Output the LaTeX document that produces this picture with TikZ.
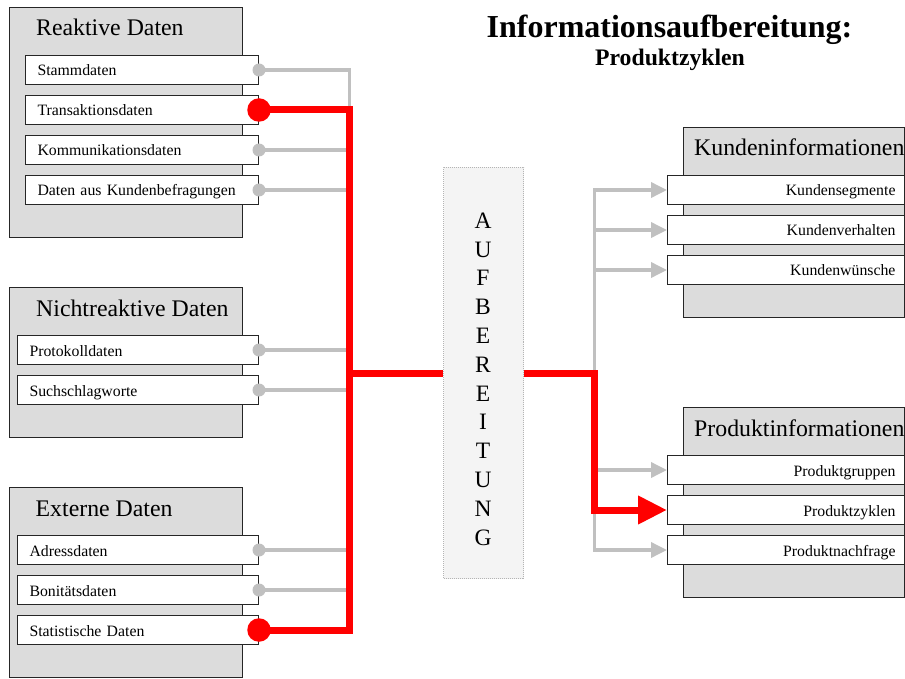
\documentclass[tikz,border=0pt]{standalone}
\usepackage{fontspec}
\setmainfont{Liberation Serif}
\usetikzlibrary{arrows.meta}
\definecolor{boxgray}{HTML}{DCDCDC}
\definecolor{linegray}{HTML}{C0C0C0}
\definecolor{aufbfill}{HTML}{F4F4F4}
\definecolor{aufbdraw}{HTML}{B4B4B4}

\begin{document}
\begin{tikzpicture}[x=1pt,y=-1pt,
  groupbox/.style={draw=black!85, line width=1pt, fill=boxgray, anchor=north west, inner sep=0pt},
  grouptitle/.style={anchor=base west, inner sep=0pt, font=\fontsize{23.8}{26}\selectfont},
  itembox/.style={draw=black!85, line width=1pt, fill=white, minimum height=28.5pt, inner ysep=0pt,
    text height=12pt, text depth=0pt, font=\fontsize{15.8}{18}\selectfont},
  leftitem/.style={itembox, anchor=west, align=left, inner xsep=12pt, text width=#1},
  rightitem/.style={itembox, anchor=west, align=right, inner xsep=9pt, text width=219pt},
  gdot/.style={circle, fill=linegray, minimum size=13pt, inner sep=0pt},
  rdot/.style={circle, fill=red, minimum size=23.5pt, inner sep=0pt},
  gline/.style={draw=linegray, line width=3.5pt},
  rline/.style={draw=red, line width=7pt, line join=miter},
  gtip/.tip={Triangle[length=16pt, width=15pt]},
  rtip/.tip={Triangle[length=29pt, width=27pt]},
  letter/.style={anchor=base, inner sep=0pt, font=\fontsize{23.5}{26}\selectfont}
]
\useasboundingbox (0,0) rectangle (905,679);

% headline
\node[anchor=base, inner sep=0pt, font=\bfseries\fontsize{32}{36}\selectfont] (title) at (669.5,37.7) {Informationsaufbereitung:};
\node[anchor=base, inner sep=0pt, font=\bfseries\fontsize{23.7}{26}\selectfont] (subtitle) at (670,66) {Produktzyklen};

% source groups
\node[groupbox, minimum width=233pt, minimum height=230pt] (reak) at (9,7) {};
\node[grouptitle] (reakT) at (36,36) {Reaktive Daten};
\node[leftitem=209pt] (stamm) at (25,70) {Stammdaten};
\node[leftitem=209pt] (trans) at (25,110) {Transaktionsdaten};
\node[leftitem=209pt] (komm) at (25,150) {Kommunikationsdaten};
\node[leftitem=209pt] (befr) at (25,190) {Daten aus Kundenbefragungen};

\node[groupbox, minimum width=233pt, minimum height=150pt] (nicht) at (9,287) {};
\node[grouptitle] (nichtT) at (36,316) {Nichtreaktive Daten};
\node[leftitem=217pt] (proto) at (17,350) {Protokolldaten};
\node[leftitem=217pt] (such) at (17,390) {Suchschlagworte};

\node[groupbox, minimum width=233pt, minimum height=190pt] (ext) at (9,487) {};
\node[grouptitle] (extT) at (35.5,516) {Externe Daten};
\node[leftitem=217pt] (adr) at (17,550) {Adressdaten};
\node[leftitem=217pt] (bon) at (17,590) {Bonitätsdaten};
\node[leftitem=217pt] (stat) at (17,630) {Statistische Daten};

% target groups
\node[groupbox, minimum width=221pt, minimum height=190pt] (kunden) at (683,127) {};
\node[grouptitle] (kundenT) at (694,156) {Kundeninformationen};
\node[rightitem] (kseg) at (667,190) {Kundensegmente};
\node[rightitem] (kverh) at (667,230) {Kundenverhalten};
\node[rightitem] (kwun) at (667,270) {Kundenwünsche};

\node[groupbox, minimum width=221pt, minimum height=190pt] (prod) at (683,407) {};
\node[grouptitle] (prodT) at (694,436) {Produktinformationen};
\node[rightitem] (pgru) at (667,470) {Produktgruppen};
\node[rightitem] (pzyk) at (667,510) {Produktzyklen};
\node[rightitem] (pnach) at (667,550) {Produktnachfrage};

% processing column
\node[draw=aufbdraw, densely dotted, line width=1pt, fill=aufbfill, anchor=north west,
      minimum width=80pt, minimum height=411pt, inner sep=0pt] (aufb) at (443,167) {};
\foreach \l [count=\i from 0] in {A,U,F,B,E,R,E,I,T,U,N,G}
  \node[letter] (L\i) at (483, {228.3+28.8*\i}) {\l};

% bus positions
\coordinate (lbus) at (349.5,373);
\coordinate (rbus) at (594.5,373);

% grey feeders into the left bus
\draw[gline] (stamm.east) -| (lbus);
\foreach \n in {komm,befr,proto,such,adr,bon}
  \draw[gline] (\n.east) -- (\n.east -| lbus);

% grey distribution to the targets
\draw[gline, {gtip}-{gtip}] (kseg.west) -| (rbus) |- (pnach.west);
\foreach \n in {kverh,kwun,pgru}
  \draw[gline, -{gtip}] (\n.west -| rbus) -- (\n.west);

% highlighted path
\draw[rline] (trans.east) -| (lbus) |- (stat.east);
\draw[rline] (lbus) -- (aufb.west);
\draw[rline, -{rtip}] (aufb.east) -| (rbus |- pzyk.west) -- (pzyk.west);

% connector dots
\foreach \n in {stamm,komm,befr,proto,such,adr,bon}
  \node[gdot] (\n D) at (\n.east) {};
\node[rdot] (transD) at (trans.east) {};
\node[rdot] (statD) at (stat.east) {};
\end{tikzpicture}
\end{document}
